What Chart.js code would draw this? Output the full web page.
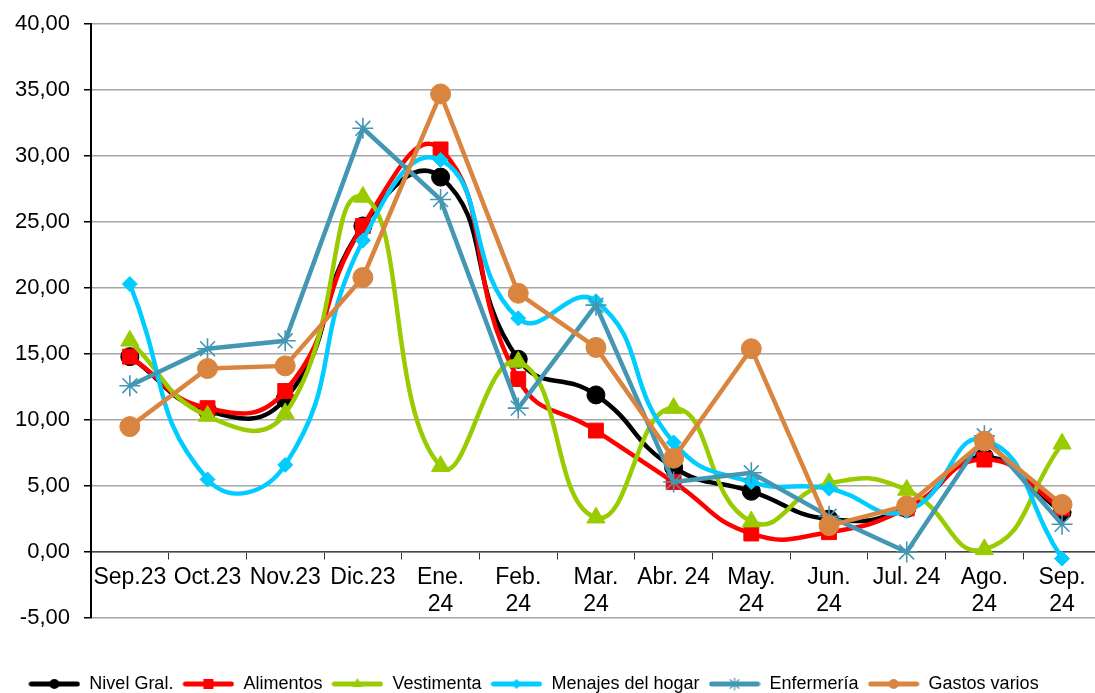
<!DOCTYPE html>
<html>
<head>
<meta charset="utf-8">
<script src="https://cdn.jsdelivr.net/npm/chart.js@4.4.1/dist/chart.umd.min.js"></script>
<style>
  html, body { margin: 0; padding: 0; background: #fff; overflow: hidden; }
  #wrap { width: 1113px; height: 693px; }
</style>
</head>
<body>
<div id="wrap"><canvas id="c" width="1113" height="693"></canvas></div>
<script>
// ---- data ----
const categories = ['Sep.23', 'Oct.23', 'Nov.23', 'Dic.23', ['Ene.', '24'], ['Feb.', '24'], ['Mar.', '24'], 'Abr. 24', ['May.', '24'], ['Jun.', '24'], 'Jul. 24', ['Ago.', '24'], ['Sep.', '24']];
const seriesNames = ['Nivel Gral.', 'Alimentos', 'Vestimenta', 'Menajes del hogar', 'Enfermería', 'Gastos varios'];
const nivelGral  = [14.8, 10.7, 11.6, 24.7, 28.4, 14.6, 11.9, 6.4, 4.6, 2.5, 3.3, 7.2, 3.0];
const alimentos  = [14.8, 10.9, 12.2, 24.7, 30.5, 13.1, 9.2, 5.3, 1.4, 1.5, 3.3, 7.0, 3.3];
const vestimenta = [16.0, 10.3, 10.5, 26.9, 6.5, 14.4, 2.6, 10.9, 2.3, 5.2, 4.7, 0.2, 8.2];
const menajes    = [20.3, 5.5, 6.6, 23.6, 29.7, 17.7, 19.0, 8.3, 5.3, 4.8, 3.1, 8.5, -0.5];
const enfermeria = [12.6, 15.4, 16.0, 32.1, 26.7, 10.9, 18.7, 5.3, 6.0, 2.7, 0.0, 8.8, 2.1];
const gastos     = [9.5, 13.9, 14.1, 20.8, 34.7, 19.6, 15.5, 7.1, 15.4, 2.0, 3.5, 8.4, 3.6];
const yTicks = { min: -5, max: 40, step: 5 };

// ---- styles ----
const colors = ['#000000', '#ff0000', '#99cc00', '#00ccff', '#4397b3', '#d9853f'];
const markers = ['circle', 'rect', 'triangle', 'rectRot', 'star', 'circle'];
const radii = [9, 10.5, 10.5, 7.5, 10.5, 10];
const tensions = [0.5, 0.5, 0.5, 0.5, 0, 0];
const values = [nivelGral, alimentos, vestimenta, menajes, enfermeria, gastos];

function legendIcon(color, style) {
  const cv = document.createElement('canvas');
  cv.width = 52; cv.height = 16;
  const g = cv.getContext('2d');
  g.strokeStyle = color; g.fillStyle = color;
  g.lineWidth = 5; g.lineCap = 'round';
  g.beginPath(); g.moveTo(3, 8); g.lineTo(49, 8); g.stroke();
  const cx = 26, cy = 8;
  g.beginPath();
  if (style === 'circle') { g.arc(cx, cy, 5, 0, Math.PI * 2); g.fill(); }
  else if (style === 'rect') { g.fillRect(cx - 5, cy - 5, 10, 10); }
  else if (style === 'triangle') { g.moveTo(cx, cy - 6); g.lineTo(cx + 5, cy + 3); g.lineTo(cx - 5, cy + 3); g.closePath(); g.fill(); }
  else if (style === 'rectRot') { g.moveTo(cx, cy - 5); g.lineTo(cx + 5, cy); g.lineTo(cx, cy + 5); g.lineTo(cx - 5, cy); g.closePath(); g.fill(); }
  else if (style === 'star') {
    g.lineWidth = 1.2;
    for (let k = 0; k < 4; k++) {
      const a = k * Math.PI / 4;
      g.moveTo(cx - 6 * Math.cos(a), cy - 6 * Math.sin(a));
      g.lineTo(cx + 6 * Math.cos(a), cy + 6 * Math.sin(a));
    }
    g.stroke();
  }
  return cv;
}
const icons = colors.map((c, i) => legendIcon(c, markers[i]));

const datasets = seriesNames.map((name, i) => ({
  label: name,
  data: values[i],
  borderColor: colors[i],
  backgroundColor: colors[i],
  borderWidth: 4.5,
  tension: tensions[i],
  pointStyle: markers[i],
  pointRadius: radii[i],
  pointBorderWidth: markers[i] === 'star' ? 1.6 : 1,
  pointBorderColor: colors[i],
  pointBackgroundColor: colors[i],
  order: seriesNames.length - i,
  fill: false
}));

const legendShift = {
  id: 'legendShift',
  afterLayout(chart) {
    const L = chart.legend;
    if (!L) return;
    const dy = 666 - L.top;
    L.top += dy; L.bottom += dy;
    L.left -= 23; L.right -= 23;
  }
};

new Chart(document.getElementById('c'), {
  type: 'line',
  data: { labels: categories, datasets },
  plugins: [legendShift],
  options: {
    responsive: false,
    animation: false,
    layout: { padding: { top: 24, right: 0, bottom: 38, left: 0 } },
    plugins: {
      tooltip: { enabled: false },
      legend: {
        position: 'bottom',
        labels: {
          usePointStyle: true,
          pointStyleWidth: 52,
          boxHeight: 18,
          padding: 9,
          color: '#000',
          font: { family: '"Liberation Sans", Arial, sans-serif', size: 18 },
          sort: (a, b) => a.datasetIndex - b.datasetIndex,
          generateLabels(chart) {
            const items = Chart.defaults.plugins.legend.labels.generateLabels(chart);
            items.forEach(it => { it.pointStyle = icons[it.datasetIndex]; });
            return items;
          }
        }
      }
    },
    scales: {
      x: {
        position: { y: 0 },
        offset: true,
        afterFit(scale) { scale.paddingLeft = 0; scale.paddingRight = 0; },
        grid: { offset: true, drawOnChartArea: false, drawTicks: true, tickLength: 7, tickColor: '#333', lineWidth: 1 },
        border: { display: true, color: '#444', width: 1.5 },
        ticks: {
          autoSkip: false, maxRotation: 0, minRotation: 0, padding: 5,
          color: '#000',
          font: { family: '"Liberation Sans", Arial, sans-serif', size: 23, lineHeight: 1.18 }
        }
      },
      y: {
        min: yTicks.min, max: yTicks.max,
        afterFit(scale) { scale.width = 91; scale.paddingTop = 0; scale.paddingBottom = 0; },
        grid: { color: '#a6a6a6', lineWidth: 1.5, tickLength: 7, tickColor: '#000' },
        border: { display: true, color: '#000', width: 2 },
        ticks: {
          stepSize: yTicks.step, padding: 14, color: '#000',
          font: { family: '"Liberation Sans", Arial, sans-serif', size: 22 },
          callback: v => v.toFixed(2).replace('.', ',')
        }
      }
    }
  }
});
</script>
</body>
</html>
